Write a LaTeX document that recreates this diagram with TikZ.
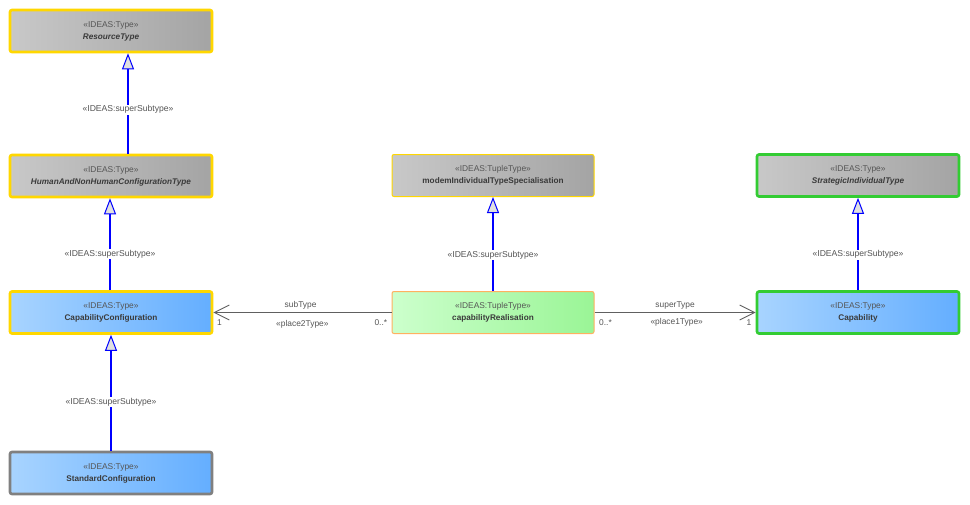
\documentclass[tikz,border=0pt]{standalone}
\usepackage{fontspec}
\setmainfont{Liberation Sans}
\usetikzlibrary{arrows.meta}
\definecolor{stereo}{HTML}{555555}
\definecolor{nametxt}{HTML}{3A3A3A}
\definecolor{edgegray}{HTML}{606060}
\definecolor{goldline}{HTML}{FFD700}
\definecolor{greenline}{HTML}{33CC33}
\definecolor{orangeline}{HTML}{FFB060}
\definecolor{grayline}{HTML}{808080}
\definecolor{grayL}{HTML}{C8C8C8}
\definecolor{grayR}{HTML}{A4A4A4}
\definecolor{blueL}{HTML}{A8D4FF}
\definecolor{blueR}{HTML}{64AEFF}
\definecolor{greenL}{HTML}{CCFFCC}
\definecolor{greenR}{HTML}{9AF596}
\tikzset{
  cls/.style={rectangle, rounded corners=2pt, minimum width=202pt, minimum height=42pt,
    inner sep=0pt, align=center, font=\fontsize{8.2}{12}\selectfont, text=nametxt},
  abstractfill/.style={left color=grayL, right color=grayR},
  typefill/.style={left color=blueL, right color=blueR},
  tuplefill/.style={left color=greenL, right color=greenR},
  goldborder/.style={draw=goldline, line width=2.6pt},
  greenborder/.style={draw=greenline, line width=2.6pt},
  grayborder/.style={draw=grayline, line width=2.6pt},
  thingold/.style={draw=goldline, line width=1pt},
  thinorange/.style={draw=orangeline, line width=1pt},
  gen/.style={draw=blue, line width=1.2pt,
    -{Triangle[length=16pt,width=12pt,fill=black!12,line width=1pt]}},
  assoc/.style={draw=edgegray, line width=1pt,
    -{Straight Barb[length=15pt,width=15pt,line width=0.9pt]}},
  elab/.style={fill=white, inner sep=1pt, text=stereo, font=\fontsize{8.6}{10}\selectfont},
  rlab/.style={inner sep=0pt, text=stereo, font=\fontsize{8.4}{10}\selectfont},
}
\newcommand{\stp}[1]{{\color{stereo}\fontsize{8.4}{10}\selectfont «IDEAS:#1»}}
\begin{document}
\begin{tikzpicture}[x=1pt,y=-1pt]
\useasboundingbox[fill=white] (0,0) rectangle (970,504);

% class boxes
\node[cls, abstractfill, goldborder] (res) at (111,31)
  {\stp{Type}\\\textbf{\itshape ResourceType}};
\node[cls, abstractfill, goldborder] (hum) at (111,176)
  {\stp{Type}\\\textbf{\itshape HumanAndNonHumanConfigurationType}};
\node[cls, typefill, goldborder] (capconf) at (111,312.5)
  {\stp{Type}\\\textbf{CapabilityConfiguration}};
\node[cls, typefill, grayborder] (std) at (111,473)
  {\stp{Type}\\\textbf{StandardConfiguration}};
\node[cls, abstractfill, thingold] (modem) at (493,175.5)
  {\stp{TupleType}\\\textbf{modemIndividualTypeSpecialisation}};
\node[cls, tuplefill, thinorange] (capreal) at (493,312.5)
  {\stp{TupleType}\\\textbf{capabilityRealisation}};
\node[cls, abstractfill, greenborder] (strat) at (858,175.5)
  {\stp{Type}\\\textbf{\itshape StrategicIndividualType}};
\node[cls, typefill, greenborder] (cap) at (858,312.5)
  {\stp{Type}\\\textbf{Capability}};

% generalisations
\draw[gen] ([xshift=17pt]hum.north) -- node[elab, pos=0.44] {«IDEAS:superSubtype»} ([xshift=17pt]res.south);
\draw[gen] ([xshift=-1pt]capconf.north) -- node[elab, pos=0.39] {«IDEAS:superSubtype»} ([xshift=-1pt]hum.south);
\draw[gen] (std.north) -- node[elab, pos=0.42] {«IDEAS:superSubtype»} (capconf.south);
\draw[gen] (capreal.north) -- node[elab, pos=0.385] {«IDEAS:superSubtype»} (modem.south);
\draw[gen] (cap.north) -- node[elab, pos=0.385] {«IDEAS:superSubtype»} (strat.south);

% tuple places
\draw[assoc] (capreal.west) -- (capconf.east)
  node[rlab, pos=0.51, above=3pt] {subType}
  node[rlab, pos=0.5, below=7pt] {«place2Type»}
  node[rlab, pos=0.966, below=7pt] {1}
  node[rlab, pos=0.06, below=7pt] {0..*};
\draw[assoc] (capreal.east) -- (cap.west)
  node[rlab, pos=0.5, above=3pt] {superType}
  node[rlab, pos=0.51, below=5pt] {«place1Type»}
  node[rlab, pos=0.068, below=7pt] {0..*}
  node[rlab, pos=0.958, below=7pt] {1};
\end{tikzpicture}
\end{document}
